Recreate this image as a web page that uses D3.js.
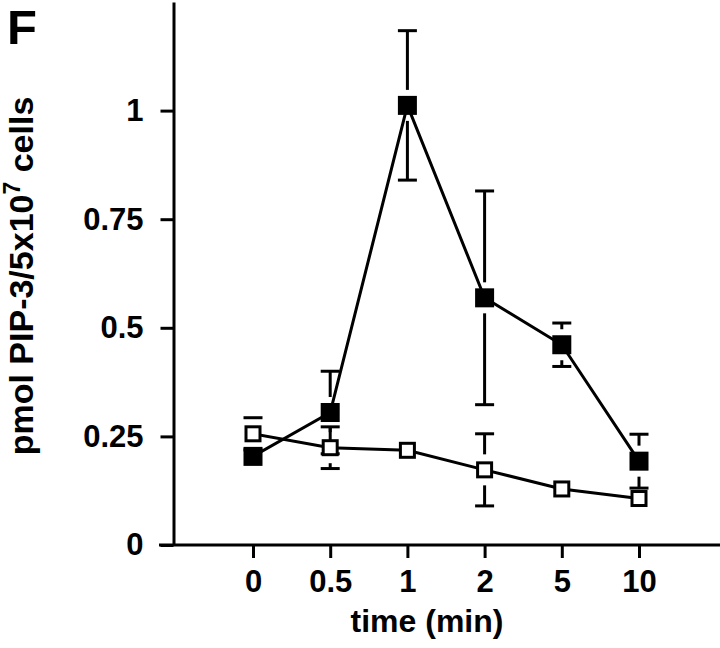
<!DOCTYPE html>
<html>
<head>
<meta charset="utf-8">
<script src="https://cdn.jsdelivr.net/npm/d3@7"></script>
<style>
  html, body { margin: 0; padding: 0; background: #fff; }
  svg { display: block; }
  text { font-family: "Liberation Sans", Arial, Helvetica, sans-serif; font-weight: bold; fill: #000; }
</style>
</head>
<body>
<svg id="chart" width="720" height="648"></svg>
<script>
// ---- data ----
const categories = ["0", "0.5", "1", "2", "5", "10"];
const stimulated = [0.204, 0.305, 1.012, 0.569, 0.461, 0.193];
const stimulatedErr = [0.01, 0.095, 0.172, 0.246, 0.05, 0.062];
const control = [0.256, 0.224, 0.218, 0.173, 0.129, 0.107];
const controlErr = [0.037, 0.048, 0.01, 0.083, 0.01, 0.01];
const yTicks = [0, 0.25, 0.5, 0.75, 1];
const yTickLabels = ["0", "0.25", "0.5", "0.75", "1"];

// ---- layout ----
const svg = d3.select("#chart");
const axisX0 = 173.5, axisY0 = 545;
const y = d3.scaleLinear().domain([0, 1.25]).range([axisY0, 2]);
const x = d3.scalePoint().domain(categories).range([253, 639]);

// panel letter
svg.append("text").attr("x", 7).attr("y", 44).attr("font-size", 49).text("F");

// y axis
const gy = svg.append("g").attr("transform", `translate(${axisX0},0)`)
  .call(d3.axisLeft(y).tickValues(yTicks).tickFormat((d, i) => yTickLabels[i])
    .tickSize(13).tickPadding(17).tickSizeOuter(0));
gy.select(".domain").attr("stroke-width", 3);
gy.selectAll(".tick line").attr("stroke-width", 3);
gy.selectAll(".tick text").attr("font-size", 31).attr("font-family", null).attr("fill", "#000");

// x axis
const gx = svg.append("g").attr("transform", `translate(0,${axisY0})`)
  .call(d3.axisBottom(x).tickSize(13).tickPadding(12).tickSizeOuter(0));
gx.select(".domain").remove();
gx.append("line").attr("x1", 159).attr("x2", 720).attr("y1", 0).attr("y2", 0)
  .attr("stroke", "#000").attr("stroke-width", 3);
gx.selectAll(".tick line").attr("stroke-width", 3);
gx.selectAll(".tick text").attr("font-size", 31).attr("font-family", null).attr("fill", "#000");

// axis titles
svg.append("text").attr("x", 427).attr("y", 632).attr("text-anchor", "middle")
  .attr("font-size", 32).text("time (min)");

const yl = svg.append("text")
  .attr("transform", "translate(33,276) rotate(-90)")
  .attr("text-anchor", "middle").attr("font-size", 34);
yl.append("tspan").text("pmol PIP-3/5x10");
yl.append("tspan").attr("font-size", 23).attr("dy", -13).text("7");
yl.append("tspan").attr("dy", 13).text(" cells");

// ---- series ----
const series = [
  { vals: control, errs: controlErr, filled: false, half: 8.5, gap: 7 },
  { vals: stimulated, errs: stimulatedErr, filled: true, half: 9.5, gap: 6 }
];

const line = d3.line().x((d, i) => x(categories[i])).y(d => y(d));

series.forEach(s => {
  svg.append("path").datum(s.vals).attr("d", line)
    .attr("fill", "none").attr("stroke", "#000").attr("stroke-width", 3);
});

// error bars
series.forEach(s => {
  const g = svg.append("g");
  s.vals.forEach((v, i) => {
    const cx = x(categories[i]);
    const cy = y(v);
    const top = y(v + s.errs[i]);
    const bot = y(v - s.errs[i]);
    const inner = s.half + s.gap;
    if (cy - top > inner) {
      g.append("line").attr("x1", cx).attr("x2", cx).attr("y1", top).attr("y2", cy - inner)
        .attr("stroke", "#000").attr("stroke-width", 3);
    }
    if (bot - cy > inner) {
      g.append("line").attr("x1", cx).attr("x2", cx).attr("y1", cy + inner).attr("y2", bot)
        .attr("stroke", "#000").attr("stroke-width", 3);
    }
    [top, bot].forEach(cy2 => {
      if (Math.abs(cy2 - cy) > inner) {
        g.append("line").attr("x1", cx - 9.5).attr("x2", cx + 9.5).attr("y1", cy2).attr("y2", cy2)
          .attr("stroke", "#000").attr("stroke-width", 3);
      }
    });
  });
});

// markers
series.forEach(s => {
  svg.append("g").selectAll("rect").data(s.vals).join("rect")
    .attr("x", (d, i) => x(categories[i]) - (s.filled ? s.half : s.half - 1.5))
    .attr("y", d => y(d) - (s.filled ? s.half : s.half - 1.5))
    .attr("width", s.filled ? s.half * 2 : s.half * 2 - 3)
    .attr("height", s.filled ? s.half * 2 : s.half * 2 - 3)
    .attr("fill", s.filled ? "#000" : "#fff")
    .attr("stroke", "#000")
    .attr("stroke-width", s.filled ? 0 : 3);
});
</script>
</body>
</html>
